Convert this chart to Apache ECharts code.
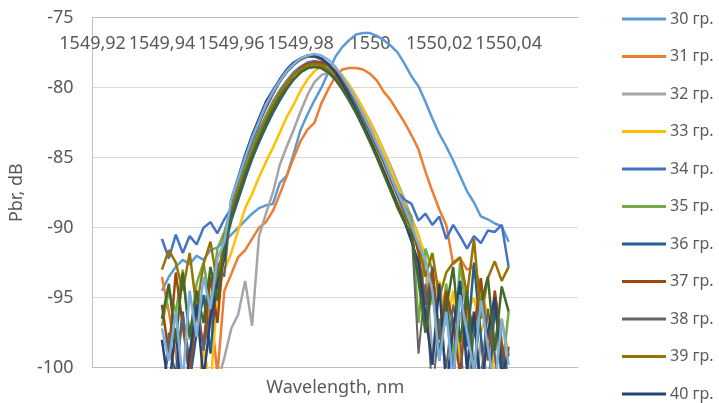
<!DOCTYPE html>
<html><head><meta charset="utf-8">
<script src="https://cdn.jsdelivr.net/npm/echarts@6/dist/echarts.min.js"></script>
<style>html,body{margin:0;padding:0;background:#fff}#c{width:719px;height:403px}</style>
</head><body><div id="c"></div>
<script>
const wavelengths = [1549.940,1549.942,1549.944,1549.946,1549.948,1549.950,1549.952,1549.954,1549.956,1549.958,
1549.960,1549.962,1549.964,1549.966,1549.968,1549.970,1549.972,1549.974,1549.976,1549.978,
1549.980,1549.982,1549.984,1549.986,1549.988,1549.990,1549.992,1549.994,1549.996,1549.998,
1550.000,1550.002,1550.004,1550.006,1550.008,1550.010,1550.012,1550.014,1550.016,1550.018,
1550.020,1550.022,1550.024,1550.026,1550.028,1550.030,1550.032,1550.034,1550.036,1550.038,1550.040];

const s30 = [-94.5,-93.5,-92.8,-92.3,-92.6,-92.0,-92.3,-91.6,-91.4,-91.0,
-90.5,-90.0,-89.5,-89.0,-88.6,-88.4,-88.3,-86.8,-86.3,-84.7,
-83.0,-81.9,-80.9,-80.0,-78.9,-77.8,-77.1,-76.6,-76.2,-76.1,
-76.1,-76.3,-76.6,-77.0,-77.5,-78.3,-79.2,-79.9,-81.0,-82.2,
-83.3,-84.2,-85.2,-86.3,-87.4,-88.2,-89.2,-89.4,-89.7,-89.9,-91.0];
const s31 = [-93.5,-96,-99,-103,-101,-104,-98,-95.5,-100.5,-94.5,
-93.3,-92.1,-91.6,-90.8,-90.0,-89.6,-88.8,-87.6,-86.3,-85.0,
-83.8,-83.0,-82.5,-81.1,-80.1,-79.2,-78.7,-78.6,-78.6,-78.7,
-79.0,-79.5,-80.3,-80.9,-81.7,-82.5,-83.4,-84.4,-86.0,-87.4,
-88.7,-89.8,-92.6,-92.2,-93.0,-92.8,-94.2,-96.5,-99,-103,-104];
const s32 = [-104,-103,-105,-104,-103,-105,-104,-102,-101,-99.3,
-97.2,-96.2,-93.8,-97.0,-90.6,-89.0,-87.5,-85.5,-84.2,-83.0,
-81.7,-80.5,-79.6,-79.1,-78.9,-78.9,-79.2,-79.8,-80.6,-81.5,
-82.4,-83.4,-84.5,-85.6,-86.8,-88.0,-89.3,-90.5,-92.5,-99,
-97,-95.5,-101,-96,-99,-103,-98,-101,-97.5,-100.5,-98.5];
const s33 = [-104,-105,-103,-104,-102,-104,-98.5,-101.5,-94.6,-93.0,
-91.8,-90.2,-88.6,-87.6,-86.4,-85.3,-84.3,-83.2,-82.1,-81.2,
-80.2,-79.4,-78.8,-78.5,-78.4,-78.6,-79.1,-79.8,-80.6,-81.5,
-82.5,-83.5,-84.6,-85.8,-87.0,-88.3,-89.4,-90.6,-92.0,-95.5,
-93.8,-97,-94.5,-99.5,-96,-95,-97.5,-95.8,-101,-96.5,-99];
const s34 = [-90.8,-92.2,-90.5,-91.8,-90.6,-91.2,-90.0,-89.6,-90.4,-89.4,
-88.6,-87.2,-85.6,-84.2,-83.0,-82.0,-81.0,-80.2,-79.5,-78.9,
-78.5,-78.2,-78.1,-78.2,-78.4,-78.9,-79.5,-80.3,-81.2,-82.1,
-83.1,-84.2,-85.3,-86.4,-87.5,-88.0,-88.3,-89.5,-89.0,-89.8,
-89.2,-90.8,-89.8,-90.6,-91.5,-90.6,-91.1,-90.2,-90.3,-89.8,-92.8];
const s35 = [-97,-94.5,-96,-93,-98,-94,-92.5,-95.5,-91.5,-90.3,
-88.6,-87.1,-85.7,-84.4,-83.2,-82.1,-81.1,-80.3,-79.6,-79.0,
-78.6,-78.3,-78.2,-78.3,-78.5,-78.9,-79.5,-80.3,-81.1,-82.0,
-83.0,-84.1,-85.2,-86.4,-87.6,-88.5,-89.2,-96.8,-91.5,-93,
-97.5,-94,-99.5,-92.5,-96.5,-101,-93.8,-98,-95,-100.5,-96];
const s36 = [-102,-98.5,-100.5,-96,-101,-97.5,-94.8,-99,-93.2,-91.5,
-89.5,-88.0,-86.5,-85.1,-83.9,-82.8,-81.8,-80.9,-80.1,-79.4,
-78.9,-78.6,-78.5,-78.6,-78.9,-79.4,-80.1,-80.9,-81.8,-82.8,
-83.8,-84.9,-86.1,-87.3,-88.5,-89.6,-90.6,-93.5,-97,-92.8,
-99.5,-95,-101,-94.2,-98.5,-92.5,-97.8,-103,-95.5,-99,-102];
const s37 = [-95.5,-99,-93.2,-97,-100.5,-95.8,-98.5,-93.5,-96.8,-91.2,
-89.0,-87.5,-86.0,-84.6,-83.4,-82.3,-81.3,-80.4,-79.7,-79.1,
-78.6,-78.3,-78.2,-78.2,-78.4,-78.8,-79.4,-80.2,-81.0,-81.9,
-82.9,-84.0,-85.1,-86.3,-87.5,-88.6,-89.8,-91.8,-95.5,-93,
-98,-94.5,-96.8,-100.5,-95.2,-97.5,-93.6,-99.5,-94.5,-98.2,-101];
const s38 = [-103,-97.5,-101,-96.2,-99.5,-94.5,-98.8,-96,-92.5,-93.5,
-88.2,-86.7,-85.2,-83.8,-82.6,-81.5,-80.5,-79.6,-78.9,-78.4,
-78.0,-77.8,-77.8,-78.0,-78.4,-78.9,-79.6,-80.4,-81.3,-82.2,
-83.2,-84.3,-85.4,-86.6,-87.8,-89.0,-90.2,-99,-94,-102,
-96.5,-100,-95.5,-98,-104,-97,-100.8,-95.8,-99.2,-103,-98.5];
const s39 = [-93,-91.6,-92.5,-94.5,-91.8,-95.8,-92.6,-91,-94,-90.6,
-88.8,-87.3,-85.9,-84.6,-83.4,-82.3,-81.3,-80.4,-79.7,-79.1,
-78.7,-78.4,-78.3,-78.4,-78.7,-79.2,-79.9,-80.7,-81.6,-82.6,
-83.6,-84.7,-85.9,-87.1,-88.3,-89.3,-90.0,-91.2,-93.5,-91.8,
-95,-93.2,-92.5,-92.1,-94.8,-90.8,-96.5,-93.6,-92.4,-93.8,-92.8];
const s40 = [-98,-101.5,-97.2,-103,-99,-95.5,-100.8,-96.5,-94,-92.2,
-88.0,-86.4,-84.8,-83.4,-82.2,-81.0,-80.2,-79.4,-78.7,-78.2,
-77.9,-77.7,-77.7,-77.9,-78.3,-78.9,-79.7,-80.6,-81.6,-82.6,
-83.7,-84.9,-86.0,-87.2,-88.5,-89.6,-91.0,-92.5,-96.2,-99.8,
-94,-101.5,-97.2,-93.8,-100.2,-96,-102,-97.5,-95,-100.5,-99];
const s41 = [-96.5,-94,-98.2,-93.2,-97.8,-94.5,-96.8,-92.8,-95.2,-91.5,
-89.2,-87.7,-86.2,-84.9,-83.7,-82.6,-81.6,-80.7,-80.0,-79.4,
-78.9,-78.6,-78.5,-78.6,-78.9,-79.4,-80.1,-80.9,-81.8,-82.8,
-83.9,-85.0,-86.2,-87.4,-88.6,-89.6,-90.5,-93.8,-97.5,-94.2,
-99,-95.8,-92.8,-98.2,-94.5,-100.5,-95.5,-93.5,-98.8,-94.2,-96];
const s42 = [-97.2,-99.5,-96,-101,-94.5,-97.8,-93.5,-95.8,-92.2,-91.0,
-88.0,-86.5,-85.0,-83.6,-82.4,-81.2,-80.3,-79.5,-78.8,-78.3,
-77.9,-77.7,-77.6,-77.7,-78.0,-78.5,-79.2,-80.0,-80.9,-81.9,
-82.9,-84.0,-85.1,-86.3,-87.5,-88.6,-89.8,-91.2,-92.3,-94.5,
-99.5,-96,-101,-94.8,-97.5,-100.2,-95.2,-98.5,-101.5,-96.5,-99.8];

const seriesNames = ['30 гр.','31 гр.','32 гр.','33 гр.','34 гр.','35 гр.','36 гр.','37 гр.','38 гр.','39 гр.','40 гр.','41 гр.','42 гр.'];
const seriesValues = [s30,s31,s32,s33,s34,s35,s36,s37,s38,s39,s40,s41,s42];
const seriesColors = ['#5B9BD5','#ED7D31','#A5A5A5','#FFC000','#4472C4','#70AD47','#255E91','#9E480E','#636363','#997300','#264478','#43682B','#7CAFDD'];
const legendNames = seriesNames.slice(0, 11);

const FONT = 'Noto Sans';
const TXT = '#595959';
const fmt = v => String(+(+v).toFixed(2)).replace('.', ',');

const chart = echarts.init(document.getElementById('c'), null, {renderer: 'canvas'});
chart.setOption({
  animation: false,
  backgroundColor: '#fff',
  textStyle: {fontFamily: FONT},
  grid: {left: 92, top: 17.7, right: 141, bottom: 35.3, containLabel: false},
  legend: {
    type: 'plain', orient: 'vertical', left: 622, top: 9, height: 600, data: legendNames,
    icon: 'rect', itemWidth: 44, itemHeight: 3, itemGap: 17.5, padding: 0,
    textStyle: {fontFamily: FONT, fontSize: 16, color: TXT, lineHeight: 20, padding: [0, 0, 0, -1]},
    selectedMode: false
  },
  xAxis: [{
    type: 'value', position: 'top', min: 1549.92, max: 1550.06, interval: 0.02,
    axisLine: {show: true, onZero: false, lineStyle: {color: '#bfbfbf', width: 1}},
    axisTick: {show: false}, splitLine: {show: false},
    axisLabel: {inside: true, margin: 17, fontSize: 18, color: TXT, fontFamily: FONT, formatter: fmt, showMaxLabel: false}
  }, {
    type: 'value', position: 'bottom', min: 1549.92, max: 1550.06, interval: 0.02,
    axisLine: {show: true, onZero: false, lineStyle: {color: '#bfbfbf', width: 1}},
    axisTick: {show: false}, splitLine: {show: false}, axisLabel: {show: false},
    name: 'Wavelength, nm', nameLocation: 'middle', nameGap: 11,
    nameTextStyle: {fontSize: 18, color: TXT, fontFamily: FONT}
  }],
  yAxis: {
    type: 'value', min: -100, max: -75, interval: 5,
    axisLine: {show: true, lineStyle: {color: '#bfbfbf', width: 1}},
    axisTick: {show: false},
    splitLine: {show: true, lineStyle: {color: '#d9d9d9', width: 1}},
    axisLabel: {margin: 19, fontSize: 18, color: TXT, fontFamily: FONT},
    name: 'Pbr, dB', nameLocation: 'middle', nameGap: 66, nameRotate: 90,
    nameTextStyle: {fontSize: 18, color: TXT, fontFamily: FONT}
  },
  series: seriesNames.map((name, k) => ({
    name, type: 'line', xAxisIndex: 0, showSymbol: false, symbol: 'none', clip: true,
    color: seriesColors[k],
    lineStyle: {width: k === 8 ? 2 : 2.5, color: seriesColors[k]},
    data: wavelengths.map((w, i) => [w, seriesValues[k][i]])
  }))
});
</script></body></html>
